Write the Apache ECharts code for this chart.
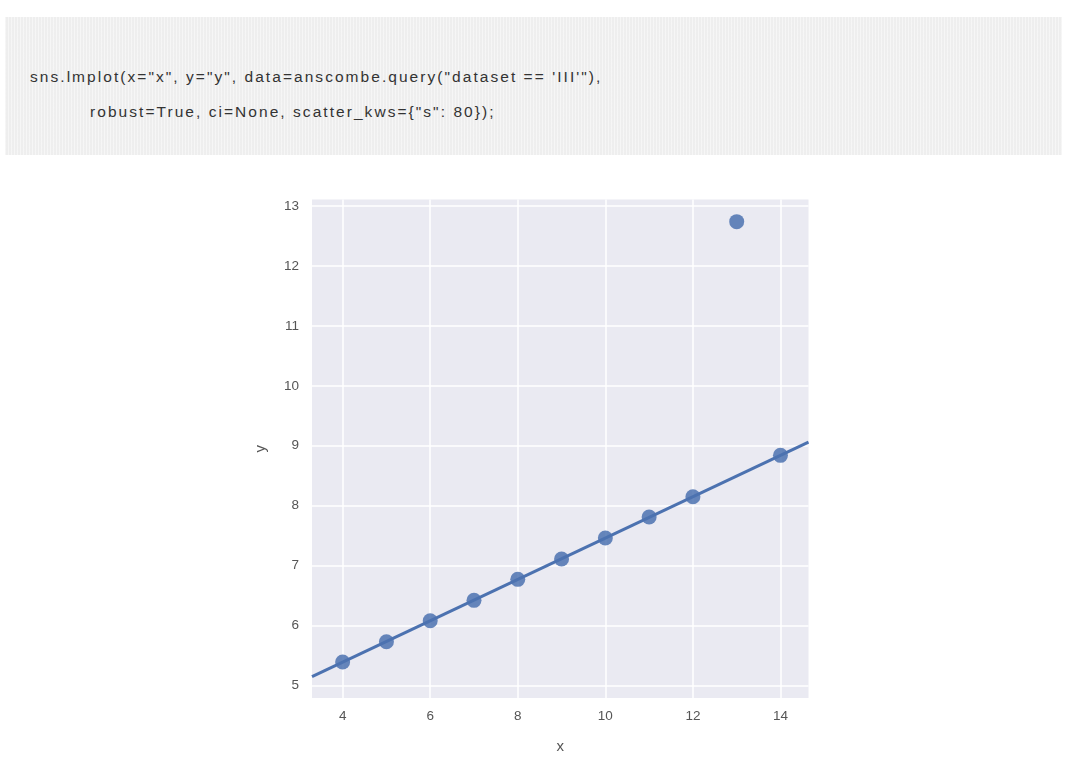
<!DOCTYPE html>
<html>
<head>
<meta charset="utf-8">
<script src="https://cdn.jsdelivr.net/npm/echarts@6/dist/echarts.min.js"></script>
<style>
  html, body { margin: 0; padding: 0; background: #ffffff; }
  #wrap { position: relative; width: 1080px; height: 759px; overflow: hidden; }
  #chart { position: absolute; left: 0; top: 0; width: 1080px; height: 759px; }
  #code {
    position: absolute; left: 5px; top: 17px; width: 1057px; height: 138px;
    background-color: #f1f1f1;
    background-image:
      repeating-linear-gradient(90deg, rgba(255,255,255,0.35) 0px, rgba(255,255,255,0.35) 1px, rgba(0,0,0,0.012) 1px, rgba(0,0,0,0.012) 3px);
  }
  .codeline {
    position: absolute; white-space: pre; color: #333333;
    font-family: "Liberation Sans", Arial, sans-serif; font-size: 15.5px; letter-spacing: 2.05px;
  }
</style>
</head>
<body>
<div id="wrap">
  <div id="chart"></div>
  <div id="code">
    <div class="codeline" style="left:25px; top:51px;">sns.lmplot(x="x", y="y", data=anscombe.query("dataset == 'III'"),</div>
    <div class="codeline" style="left:85px; top:86px;">robust=True, ci=None, scatter_kws={"s": 80});</div>
  </div>
</div>
<script>
// Anscombe's quartet, dataset III
const xValues = [10, 8, 13, 9, 11, 14, 6, 4, 12, 7, 5];
const yValues = [7.46, 6.77, 12.74, 7.11, 7.81, 8.84, 6.08, 5.39, 8.15, 6.42, 5.73];
const xTicks = [4, 6, 8, 10, 12, 14];
const yTicks = [5, 6, 7, 8, 9, 10, 11, 12, 13];
const xLimits = [3.3, 14.64];
const yLimits = [4.79, 13.11];

// Robust (Tukey bisquare IRLS) linear fit, as in seaborn robust=True
function robustFit(xs, ys) {
  const n = xs.length;
  let w = new Array(n).fill(1);
  let a = 0, b = 0;
  for (let it = 0; it < 100; it++) {
    let sw = 0, sx = 0, sy = 0, sxx = 0, sxy = 0;
    for (let i = 0; i < n; i++) {
      sw += w[i]; sx += w[i] * xs[i]; sy += w[i] * ys[i];
      sxx += w[i] * xs[i] * xs[i]; sxy += w[i] * xs[i] * ys[i];
    }
    const mx = sx / sw, my = sy / sw;
    b = (sxy - sw * mx * my) / (sxx - sw * mx * mx);
    a = my - b * mx;
    const r = xs.map((x, i) => ys[i] - (a + b * x));
    const absr = r.map(Math.abs).sort((p, q) => p - q);
    const med = n % 2 ? absr[(n - 1) / 2] : (absr[n / 2 - 1] + absr[n / 2]) / 2;
    const s = Math.max(med / 0.6745, 1e-9);
    w = r.map(v => { const u = v / (4.685 * s); return Math.abs(u) < 1 ? Math.pow(1 - u * u, 2) : 0; });
  }
  return [a, b];
}
const [fitA, fitB] = robustFit(xValues, yValues);
const fitLine = xLimits.map(x => [x, fitA + fitB * x]);
const points = xValues.map((x, i) => [x, yValues[i]]);

const chart = echarts.init(document.getElementById('chart'), null, { renderer: 'canvas' });
const labelFont = { color: '#555555', fontSize: 13.5, fontFamily: '"Liberation Sans", Arial, sans-serif' };
chart.setOption({
  animation: false,
  backgroundColor: '#ffffff',
  grid: { left: 312, top: 199.5, width: 496.5, height: 499, backgroundColor: '#eaeaf2', show: true, borderWidth: 0 },
  xAxis: {
    type: 'value', min: xLimits[0], max: xLimits[1],
    name: 'x', nameLocation: 'middle', nameGap: 41,
    nameTextStyle: { color: '#555555', fontSize: 15, fontFamily: '"Liberation Sans", Arial, sans-serif' },
    axisLine: { show: false },
    axisLabel: Object.assign({ margin: 11, customValues: xTicks }, labelFont),
    axisTick: { show: false, customValues: xTicks },
    splitLine: { show: true, lineStyle: { color: '#ffffff', width: 1.5 } }
  },
  yAxis: {
    type: 'value', min: yLimits[0], max: yLimits[1],
    name: 'y', nameLocation: 'middle', nameGap: 44, nameRotate: 90,
    nameTextStyle: { color: '#555555', fontSize: 15, fontFamily: '"Liberation Sans", Arial, sans-serif' },
    axisLine: { show: false },
    axisLabel: Object.assign({ margin: 13, customValues: yTicks }, labelFont),
    axisTick: { show: false, customValues: yTicks },
    splitLine: { show: true, lineStyle: { color: '#ffffff', width: 1.5 } }
  },
  series: [
    {
      type: 'scatter', data: points, symbolSize: 15, z: 3,
      itemStyle: { color: '#4c72b0', opacity: 0.85 }
    },
    {
      type: 'line', data: fitLine, showSymbol: false, symbol: 'none', z: 4,
      lineStyle: { color: '#4c72b0', width: 3 }, clip: true
    }
  ]
});
</script>
</body>
</html>
